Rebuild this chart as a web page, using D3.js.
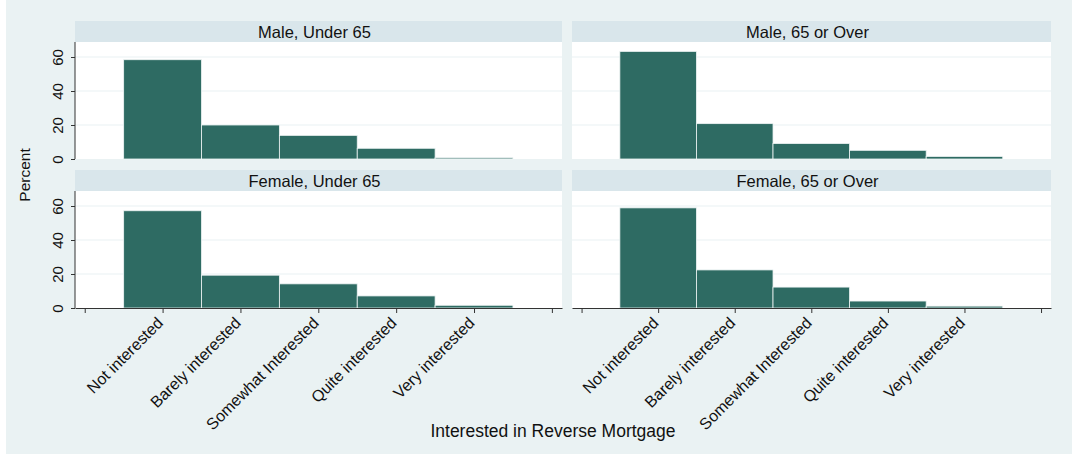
<!DOCTYPE html>
<html><head><meta charset="utf-8">
<script src="https://cdn.jsdelivr.net/npm/d3@7"></script>
<style>body{margin:0;background:#fff}svg{display:block;font-family:"Liberation Sans",Arial,sans-serif}</style>
</head><body><svg id="c" width="1072" height="454"></svg>
<script>
const categories = ["Not interested","Barely interested","Somewhat Interested","Quite interested","Very interested"];
const panelTitles = ["Male, Under 65","Male, 65 or Over","Female, Under 65","Female, 65 or Over"];
const maleUnder65 = [58.4, 20.0, 13.9, 6.3, 0.7];
const male65Over = [63.3, 20.8, 9.1, 5.1, 1.5];
const femaleUnder65 = [57.2, 19.3, 14.2, 7.1, 1.6];
const female65Over = [58.9, 22.4, 12.3, 4.1, 1.1];
const yTicks = [0, 20, 40, 60];
const xTicks = [0, 1, 2, 3, 4, 5, 6];
const series = [maleUnder65, male65Over, femaleUnder65, female65Over];

const svg = d3.select("#c");
svg.append("rect").attr("x",6).attr("y",0).attr("width",1066).attr("height",454).attr("fill","#eaf2f3");

const cols = [{x:75,w:487},{x:572,w:479}];
const rows = [{y:21},{y:170}];
const stripH = 21, plotH = 117;
const y = d3.scaleLinear().domain([0, plotH/1.7]).range([plotH, 0]);

series.forEach((vals, i) => {
  const c = cols[i % 2], r = rows[Math.floor(i / 2)];
  const x = d3.scaleLinear().domain([-0.125, 6.13]).range([0, c.w]);
  const g = svg.append("g").attr("transform", `translate(${c.x},${r.y})`);
  g.append("rect").attr("width", c.w).attr("height", stripH).attr("fill", "#d9e6eb");
  g.append("text").attr("x", c.w/2 - 4).attr("y", stripH/2 + 6).attr("text-anchor","middle")
    .attr("font-size", 16.5).attr("fill", "#111").text(panelTitles[i]);
  const p = g.append("g").attr("transform", `translate(0,${stripH})`);
  p.append("rect").attr("width", c.w).attr("height", plotH).attr("fill", "#fff");
  p.selectAll("line.grid").data(yTicks.slice(1)).join("line").attr("class","grid")
    .attr("x1",0).attr("x2",c.w).attr("y1",d=>y(d)).attr("y2",d=>y(d))
    .attr("stroke","#eaf2f3").attr("stroke-width",1.2);
  p.selectAll("rect.bar").data(vals).join("rect").attr("class","bar")
    .attr("x",(d,j)=>x(j+0.5)).attr("width",(d,j)=>x(j+1.5)-x(j+0.5))
    .attr("y",d=>y(d)).attr("height",d=>y(0)-y(d))
    .attr("fill","#2e6b63").attr("stroke","#eef4f4").attr("stroke-width",0.8);
  if (i % 2 === 0) {
    const ya = p.append("g").call(d3.axisLeft(y).tickValues(yTicks).tickSize(4).tickSizeOuter(0).tickPadding(3));
    ya.select(".domain").attr("stroke","#333").attr("d",`M0,0V${plotH}`);
    ya.selectAll(".tick line").attr("stroke","#333");
    ya.selectAll(".tick text").attr("font-size",15).attr("fill","#111")
      .attr("transform","rotate(-90)").attr("text-anchor","middle").attr("x",0).attr("dy",0)
      .attr("y",-12);
  }
  if (r === rows[1]) {
    const xa = p.append("g").attr("transform",`translate(0,${plotH})`)
      .call(d3.axisBottom(x).tickValues(xTicks).tickSize(5).tickSizeOuter(0)
        .tickFormat(d => (d>=1 && d<=5) ? categories[d-1] : ""));
    xa.select(".domain").attr("stroke","#333");
    xa.selectAll(".tick line").attr("stroke","#333");
    xa.selectAll(".tick text").attr("font-size",16).attr("fill","#111")
      .attr("text-anchor","end").attr("x",0).attr("y",0).attr("dy","0.35em")
      .attr("transform","translate(-3,12) rotate(-45)");
  }
});

svg.append("text").attr("transform","translate(30,175) rotate(-90)").attr("text-anchor","middle")
  .attr("font-size",15.5).attr("fill","#111").text("Percent");
svg.append("text").attr("x",553).attr("y",437).attr("text-anchor","middle")
  .attr("font-size",17.5).attr("fill","#111").text("Interested in Reverse Mortgage");
</script></body></html>
